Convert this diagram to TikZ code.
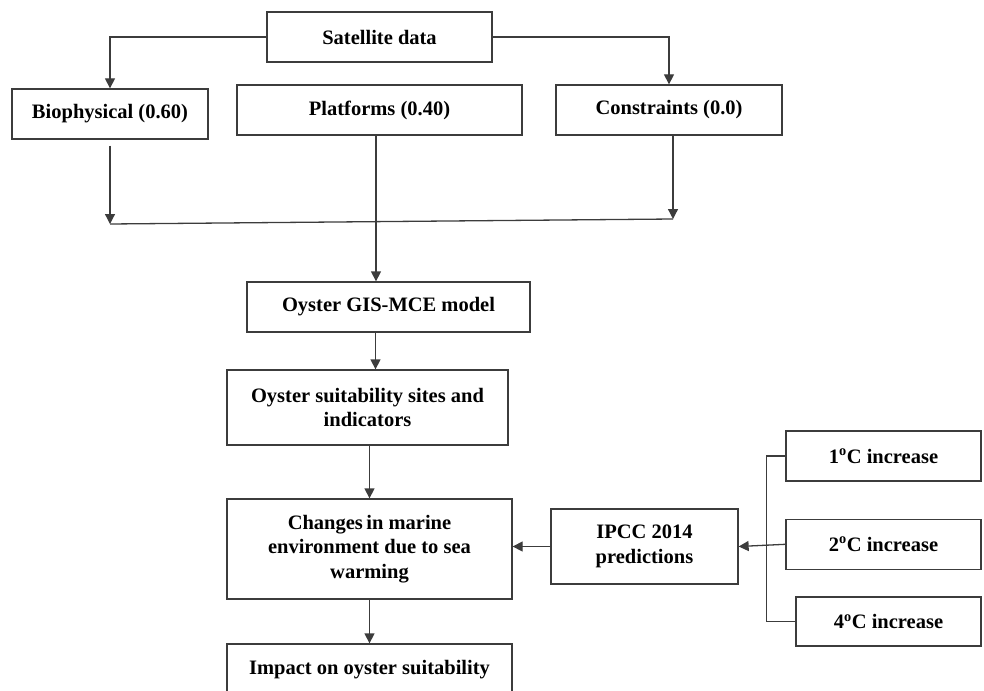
\documentclass[tikz,border=0pt]{standalone}
\usepackage{fontspec}
\setmainfont{Liberation Serif}
\definecolor{colline}{RGB}{60,60,60}
\usetikzlibrary{
	arrows.meta,
	positioning
}
\tikzset{
	>={Triangle[length=10pt,width=10pt]},
	flownode/.style={draw=colline, line width=1.3pt, inner sep=0pt, align=center,
		font=\bfseries\fontsize{20.5}{24.5}\selectfont},
	flowedge/.style={draw=colline, line width=1.3pt},
	flowarrow/.style={flowedge, ->}
}

\begin{document}
\begin{tikzpicture}[x=1pt, y=-1pt]
	\useasboundingbox (0,0) rectangle (984,690);
	\clip (0,0) rectangle (984,690);

	\node[flownode, minimum width=225pt, minimum height=50pt] (sat) at (379.5,37) {Satellite data};
	\node[flownode, minimum width=196pt, minimum height=50pt] (bio) at (110,114) {Biophysical (0.60)};
	\node[flownode, minimum width=285pt, minimum height=50pt] (plat) at (379.5,110) {Platforms (0.40)};
	\node[flownode, minimum width=226pt, minimum height=50pt] (cons) at (669,110) {Constraints (0.0)};
	\node[flownode, minimum width=283pt, minimum height=50pt] (gis) at (388.5,307) {Oyster GIS-MCE model};
	\node[flownode, minimum width=281pt, minimum height=75pt] (suit) at (367.5,407.5) {Oyster suitability sites and\\indicators};
	\node[flownode, minimum width=285pt, minimum height=100pt] (chg) at (369.5,549) {Changes\,in marine\\environment due to sea\\warming};
	\node[flownode, minimum width=285pt, minimum height=52pt] (imp) at (369.5,670) {Impact on oyster suitability};
	\node[flownode, minimum width=187pt, minimum height=75pt] (ipcc) at (644.5,546.5) {IPCC 2014\\predictions};
	\node[flownode, minimum width=195pt, minimum height=50pt] (c1) at (883.5,456) {1\textsuperscript{o}C increase};
	\node[flownode, minimum width=195pt, minimum height=50pt] (c2) [below=37pt of c1] {2\textsuperscript{o}C increase};
	\node[flownode, minimum width=185pt, minimum height=49pt] (c4) at (888.5,621.5) {4\textsuperscript{o}C increase};

	\coordinate (joinL) at (110,224);
	\coordinate (joinR) at (673,219);

	% satellite data to the criteria
	\draw[flowarrow] (sat.west) -| (bio.north);
	\draw[flowarrow] (sat.east) -| (cons.north);

	% criteria joined
	\draw[flowarrow, shorten <=6pt] (bio.south) -- (joinL);
	\draw[flowarrow] ([xshift=4pt]cons.south) -- (joinR);
	\draw[flowedge] (joinL) -- (joinR);
	\draw[flowarrow] ([xshift=-3.5pt]plat.south) -- ([xshift=-3.5pt]plat.south |- gis.north);

	% main column
	\draw[flowarrow] ([xshift=-13pt]gis.south) -- ([xshift=-13pt]gis.south |- suit.north);
	\draw[flowarrow] (chg.north |- suit.south) -- (chg.north);
	\draw[flowarrow] (chg.south) -- (imp.north);

	% warming scenarios
	\draw[flowarrow] (ipcc.west) -- (ipcc.west -| chg.east);
	\draw[flowarrow] (c2.west) -- (ipcc.east);
	\draw[flowedge] (c1.west) -- ++(-19pt,0) |- (c4.west);
\end{tikzpicture}
\end{document}
